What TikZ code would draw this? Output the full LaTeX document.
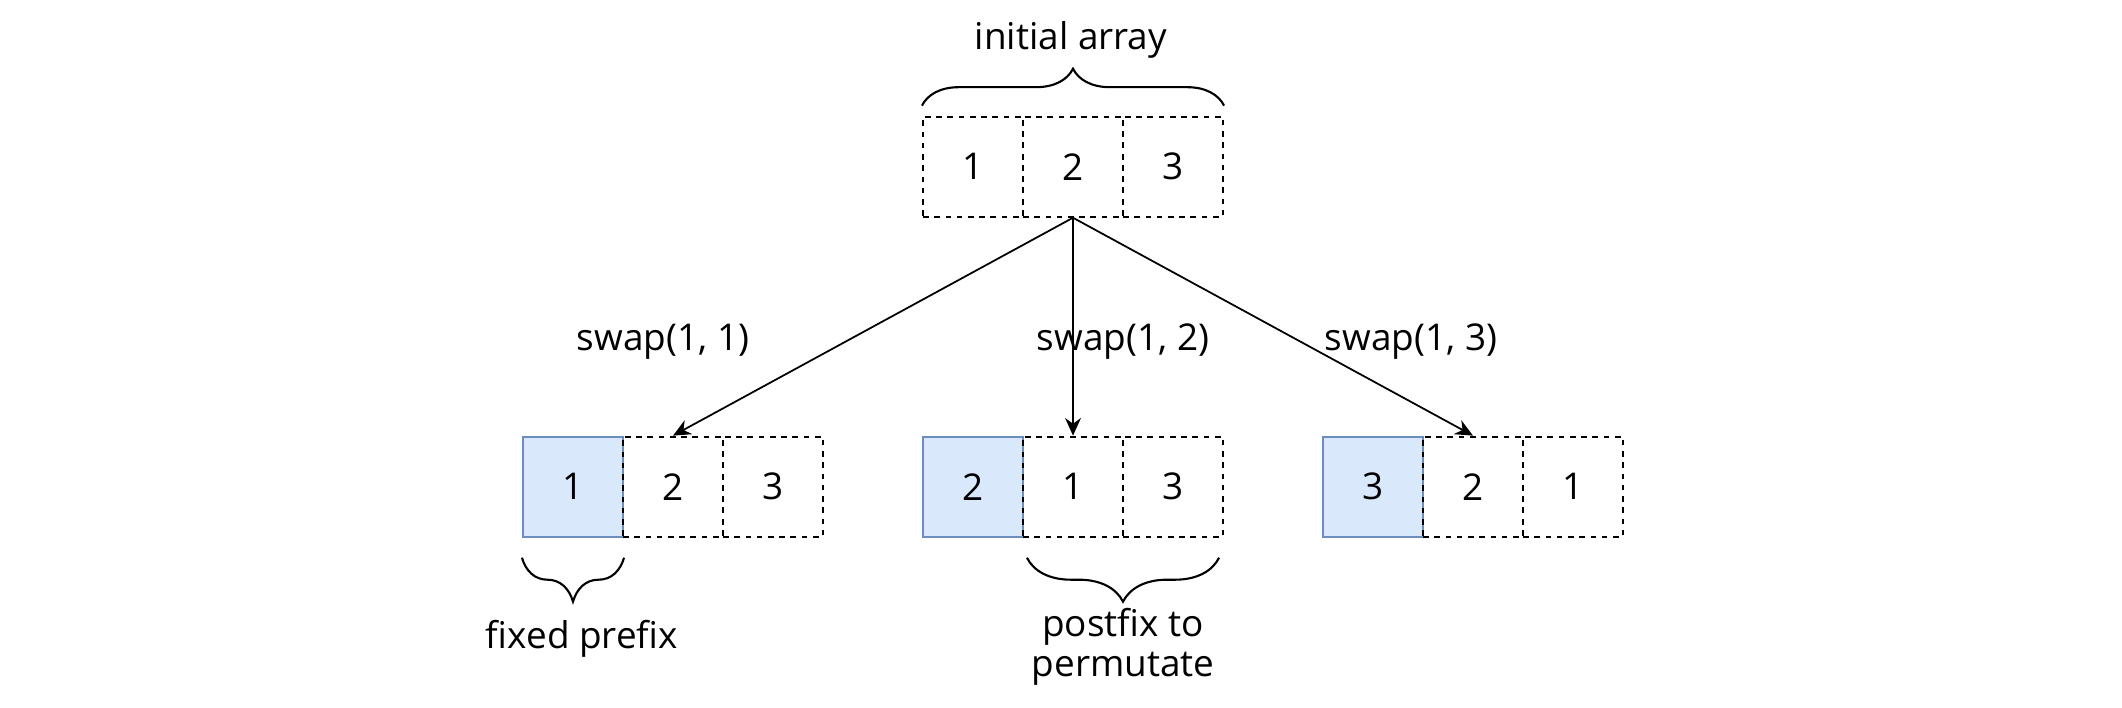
\documentclass[tikz,border=0pt]{standalone}
\usepackage{fontspec}
\setmainfont{Open Sans}
\usetikzlibrary{arrows.meta, decorations.pathreplacing, calc}

\definecolor{fixfill}{HTML}{DAE8FC}
\definecolor{fixline}{HTML}{6C8EBF}

\tikzset{
    cell/.style={draw=black, dash pattern=on 1.6pt off 1.6pt, line width=0.6pt,
        minimum size=1cm, inner sep=0pt, font=\fontsize{10.5}{12}\selectfont},
    fixcell/.style={draw=fixline, fill=fixfill, line width=0.6pt,
        minimum size=1cm, inner sep=0pt, font=\fontsize{10.5}{12}\selectfont},
    txt/.style={font=\fontsize{10.5}{11.5}\selectfont, align=center},
    swaparrow/.style={-{Stealth[length=5pt, width=4.5pt]}, line width=0.5pt},
    bracket/.style={decorate, line width=0.6pt}
}

\begin{document}
\begin{tikzpicture}
    \useasboundingbox (0,0) rectangle (21.22,7.08);

    % Initial array
    \node[cell] (top1) at (9.73,5.413) {1};
    \node[cell] (top2) at (10.73,5.413) {2};
    \node[cell] (top3) at (11.73,5.413) {3};
    \draw[bracket, decoration={brace, amplitude=10.5pt}] ($(top1.north west)+(0,0.1)$) -- ($(top3.north east)+(0,0.1)$);
    \node[txt] (initial) at (10.71,6.68) {initial array};

    % swap(1, 1)
    \node[fixcell] (a1) at (5.73,2.213) {1};
    \node[cell] (a2) at (6.73,2.213) {2};
    \node[cell] (a3) at (7.73,2.213) {3};

    % swap(1, 2)
    \node[fixcell] (b1) at (9.73,2.213) {2};
    \node[cell] (b2) at (10.73,2.213) {1};
    \node[cell] (b3) at (11.73,2.213) {3};

    % swap(1, 3)
    \node[fixcell] (c1) at (13.73,2.213) {3};
    \node[cell] (c2) at (14.73,2.213) {2};
    \node[cell] (c3) at (15.73,2.213) {1};

    % Arrows
    \draw[swaparrow] (top2.south) -- (a2.north);
    \draw[swaparrow] (top2.south) -- (b2.north);
    \draw[swaparrow] (top2.south) -- (c2.north);
    \node[txt] (swapA) at (6.63,3.66) {swap(1, 1)};
    \node[txt] (swapB) at (11.23,3.66) {swap(1, 2)};
    \node[txt] (swapC) at (14.11,3.66) {swap(1, 3)};

    % Braces below
    \draw[bracket, decoration={brace, amplitude=12.5pt}] ($(a1.south east)+(0,-0.2)$) -- ($(a1.south west)+(0,-0.2)$);
    \node[txt] (fixed) at (5.82,0.69) {fixed prefix};
    \draw[bracket, decoration={brace, amplitude=12.5pt}] ($(b3.south east)+(-0.05,-0.2)$) -- ($(b2.south west)+(0.05,-0.2)$);
    \node[txt] (postfix) at (11.23,0.61) {postfix to\\permutate};
\end{tikzpicture}
\end{document}
